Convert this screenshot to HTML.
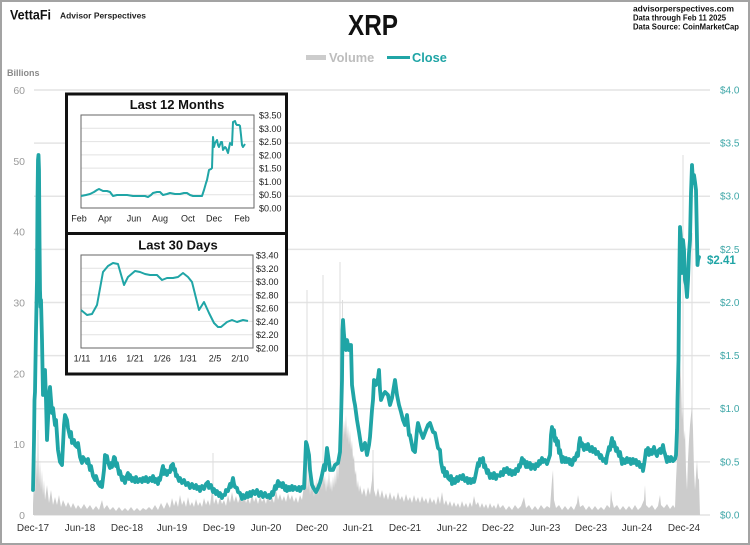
<!DOCTYPE html>
<html><head><meta charset="utf-8"><style>
html,body{margin:0;padding:0;background:#fff;}
svg{display:block;font-family:"Liberation Sans",Arial,sans-serif;}
</style></head><body>
<svg width="750" height="545" viewBox="0 0 750 545" xmlns="http://www.w3.org/2000/svg">
<rect x="0" y="0" width="750" height="545" fill="#fff"/>
<rect x="1" y="1" width="748" height="543" fill="none" stroke="#a3a3a3" stroke-width="2"/>

<!-- header -->
<text x="10" y="19.5" font-size="14" font-weight="bold" fill="#111" textLength="41" lengthAdjust="spacingAndGlyphs">VettaFi</text>
<text x="60" y="18.5" font-size="8.5" font-weight="bold" fill="#222" textLength="86" lengthAdjust="spacingAndGlyphs">Advisor Perspectives</text>
<text x="633" y="11.5" font-size="8.5" font-weight="bold" fill="#111" textLength="101" lengthAdjust="spacingAndGlyphs">advisorperspectives.com</text>
<text x="633" y="20.5" font-size="8.5" font-weight="bold" fill="#111" textLength="93" lengthAdjust="spacingAndGlyphs">Data through Feb 11 2025</text>
<text x="633" y="29.3" font-size="8.5" font-weight="bold" fill="#111" textLength="106" lengthAdjust="spacingAndGlyphs">Data Source: CoinMarketCap</text>
<text x="348" y="35" font-size="29" font-weight="bold" fill="#111" textLength="50" lengthAdjust="spacingAndGlyphs">XRP</text>

<!-- legend -->
<rect x="306" y="55" width="20" height="5" fill="#cccccc"/>
<text x="329" y="62" font-size="12.8" font-weight="bold" fill="#bdbdbd">Volume</text>
<line x1="387" y1="57.5" x2="410" y2="57.5" stroke="#20a5a6" stroke-width="3"/>
<text x="412" y="62" font-size="12.8" font-weight="bold" fill="#20a5a6">Close</text>

<text x="7" y="76" font-size="9" font-weight="bold" fill="#8a8a8a">Billions</text>

<!-- gridlines -->
<g stroke="#e4e4e4" stroke-width="1.5">
<line x1="34" y1="90" x2="710" y2="90"/>
<line x1="34" y1="143.1" x2="710" y2="143.1"/>
<line x1="34" y1="196.25" x2="710" y2="196.25"/>
<line x1="34" y1="249.4" x2="710" y2="249.4"/>
<line x1="34" y1="302.5" x2="710" y2="302.5"/>
<line x1="34" y1="355.6" x2="710" y2="355.6"/>
<line x1="34" y1="408.75" x2="710" y2="408.75"/>
<line x1="34" y1="461.9" x2="710" y2="461.9"/>
<line x1="34" y1="515" x2="710" y2="515"/>
</g>

<!-- left axis -->
<g font-size="10.5" fill="#9a9a9a" text-anchor="end">
<text x="25" y="94">60</text>
<text x="25" y="164.8">50</text>
<text x="25" y="235.7">40</text>
<text x="25" y="306.5">30</text>
<text x="25" y="377.3">20</text>
<text x="25" y="448.2">10</text>
<text x="25" y="519">0</text>
</g>
<!-- right axis -->
<g font-size="10" fill="#3fa7a8">
<text x="720" y="93.5">$4.0</text>
<text x="720" y="146.6">$3.5</text>
<text x="720" y="199.7">$3.0</text>
<text x="720" y="252.9">$2.5</text>
<text x="720" y="306">$2.0</text>
<text x="720" y="359.1">$1.5</text>
<text x="720" y="412.2">$1.0</text>
<text x="720" y="465.4">$0.5</text>
<text x="720" y="518.5">$0.0</text>
</g>

<!-- x labels -->
<g font-size="10" fill="#333" text-anchor="middle">
<text x="33" y="531">Dec-17</text>
<text x="80" y="531">Jun-18</text>
<text x="127" y="531">Dec-18</text>
<text x="172" y="531">Jun-19</text>
<text x="219" y="531">Dec-19</text>
<text x="266" y="531">Jun-20</text>
<text x="312" y="531">Dec-20</text>
<text x="358" y="531">Jun-21</text>
<text x="405" y="531">Dec-21</text>
<text x="452" y="531">Jun-22</text>
<text x="498" y="531">Dec-22</text>
<text x="545" y="531">Jun-23</text>
<text x="591" y="531">Dec-23</text>
<text x="637" y="531">Jun-24</text>
<text x="684" y="531">Dec-24</text>
</g>

<!-- volume thin spikes -->
<g stroke="#dedede" stroke-width="1">
<line x1="213" y1="515" x2="213" y2="453"/>
<line x1="307" y1="515" x2="307" y2="290"/>
<line x1="323" y1="515" x2="323" y2="275"/>
<line x1="340" y1="515" x2="340" y2="262"/>
<line x1="342.5" y1="515" x2="342.5" y2="300"/>
<line x1="373" y1="515" x2="373" y2="450"/>
<line x1="683" y1="515" x2="683" y2="155"/>
<line x1="692" y1="515" x2="692" y2="233"/>
<line x1="38" y1="515" x2="38" y2="430"/>
</g>
<!-- volume area -->
<path fill="#cccccc" d="M33,515 L33,505 34,478 35,495 36,455 37,480 38,440 39,485 40,460 41,490 42,470 43,495 44,480 45,500 47,485 49,503 51,490 53,505 55,497 57,505 59,495 61,507 63,500 66,507 68,502 71,508 73,503 76,509 78,505 81,509 84,504 87,509 90,505 93,510 96,506 99,510 102,500 104,509 107,505 110,510 113,507 116,511 119,507 122,511 125,508 128,511 131,507 134,511 137,508 140,511 143,508 146,510 149,507 152,510 155,505 158,510 161,503 164,509 167,502 170,508 172,498 174,506 176,500 178,507 180,495 182,505 184,500 186,507 188,497 190,506 192,502 194,507 196,499 198,506 200,502 202,507 204,498 206,505 208,500 210,506 212,490 214,504 216,498 218,505 220,497 222,504 224,500 226,506 228,495 230,503 232,492 234,502 236,496 238,503 240,497 242,502 244,495 246,503 248,498 250,504 252,494 254,502 256,497 258,504 260,496 262,502 264,498 266,504 268,493 270,502 272,497 274,503 276,490 278,500 280,494 282,501 284,496 286,502 288,493 290,500 292,495 294,502 296,497 298,503 300,495 302,500 304,485 305,470 306,440 307,480 308,490 309,470 310,495 311,480 312,492 313,485 314,497 315,482 316,490 317,478 318,495 319,483 320,488 321,470 322,490 323,455 324,485 325,475 326,492 327,478 328,488 329,470 330,490 331,480 332,492 333,476 334,488 335,472 336,485 337,460 338,480 339,455 340,445 341,430 342,410 343,440 344,420 345,435 346,415 347,440 348,425 349,445 350,430 351,450 352,440 353,460 354,455 355,475 356,470 357,488 358,480 359,492 360,485 362,495 364,488 366,497 368,487 370,495 372,480 373,460 374,490 376,497 378,488 380,498 382,490 384,499 386,493 388,500 390,492 392,500 394,495 396,501 398,492 400,500 402,496 404,502 406,494 408,501 410,497 412,503 414,495 416,502 418,497 420,503 422,496 424,502 426,498 428,504 430,497 432,503 434,499 436,505 438,496 440,504 442,492 444,505 446,500 448,506 450,501 452,507 454,502 456,507 458,503 460,508 462,501 464,507 466,503 468,508 470,502 472,507 474,496 476,505 478,502 480,508 482,503 484,508 486,504 488,509 490,503 492,508 494,505 496,509 498,503 500,508 503,505 506,510 509,506 512,510 515,505 518,509 521,506 524,497 526,508 529,505 532,510 535,506 538,510 541,505 544,509 547,506 550,508 552,480 553,470 554,500 556,508 559,505 562,510 565,506 568,510 571,506 574,510 577,503 578,495 580,507 583,505 586,510 589,506 592,510 595,506 598,510 601,507 604,510 607,505 610,508 611,490 612,500 614,508 617,505 620,510 623,506 626,510 629,506 632,510 635,505 638,510 641,507 644,500 645,485 646,505 649,508 652,505 655,510 658,506 660,495 661,505 664,508 667,504 670,509 673,505 675,508 676,480 677,460 678,420 679,390 680,360 681,380 682,420 683,400 684,440 685,430 686,470 687,490 688,460 689,440 690,425 691,415 692,405 693,430 694,470 695,490 696,475 697,460 698,478 699,480 700,515 Z"/>

<!-- close line -->
<polyline fill="none" stroke="#20a5a6" stroke-width="3.8" stroke-linejoin="round" stroke-linecap="round" points="33,490 34,440 34.5,400 35,392 36,330 37,280 37.5,200 38,160 38.5,155 39,170 39.5,240 40,290 40.5,307 41,300 42,340 43,395 45,370 46,400 47,440 48,420 49,395 50,387 52,413 53,408 55,425 56,420 58,450 60,462 62,465 64,425 65,415 67,420 68,428 70,437 71,432 72,443 74,440 75,445 77,447 78,443 80,457 82,463 83,457 85,460 87,463 88,459 90,470 91,466 93,476 95,480 96,476 98,483 100,486 101,482 102,487 104,470 105,455 106,462 107,456 108,462 110,468 111,463 112,467 114,457 115,458 116,466 117,463 119,474 120,471 122,480 123,477 125,483 126,478 128,473 129,479 130,475 132,481 133,478 135,482 136,477 138,482 140,479 142,482 143,478 145,481 146,477 148,482 150,478 152,481 153,476 155,482 156,479 158,484 159,478 160,480 162,470 163,466 164,474 165,470 167,475 168,471 170,472 171,466 173,464 174,470 175,469 176,476 177,475 179,481 180,478 182,483 184,480 186,485 188,483 190,488 192,484 194,488 196,485 197,489 199,487 200,491 202,486 204,489 206,484 208,482 209,488 211,485 213,492 214,489 216,494 217,491 219,496 220,493 222,498 223,495 225,495 226,490 228,491 230,484 231,487 233,478 234,484 235,487 237,488 238,492 240,493 242,499 243,495 245,498 247,493 248,497 250,492 251,496 253,491 255,494 257,490 259,496 261,492 263,497 265,493 267,497 269,495 270,498 272,492 273,495 275,486 276,489 278,481 279,486 280,483 282,487 283,483 285,490 286,486 287,491 289,487 290,490 292,486 293,490 295,487 297,490 299,487 300,491 302,487 304,488 305,467 306,442 307,445 309,455 310,470 312,485 314,489 316,492 318,488 320,483 322,475 324,465 325,470 327,448 329,462 330,470 333,470 335,465 338,463 340,452 341,420 342,380 342.5,330 343,320 344,335 345,345 346,350 347,340 349,350 350,345 351,345 352,385 354,400 355,405 357,420 359,432 361,445 362,450 364,445 365,443 367,455 369,445 370,437 372,410 373,400 374,380 376,385 378,378 379,370 380,390 381,400 383,395 385,392 388,395 390,405 392,398 395,380 397,395 399,405 401,412 403,420 405,425 407,415 409,435 410,435 412,445 413,450 415,452 417,430 418,423 420,430 423,438 426,430 428,425 430,423 433,432 435,433 438,448 440,450 441,462 443,472 444,468 445,476 447,472 448,478 450,480 451,476 452,484 454,479 455,483 457,477 458,481 460,476 462,479 463,475 465,481 467,478 468,483 470,479 471,483 473,479 474,482 475,478 476,473 477,468 478,463 479,466 480,459 482,462 483,458 484,467 485,465 487,473 488,470 490,478 491,474 493,478 494,473 496,479 497,475 500,476 501,472 503,475 504,469 506,472 507,468 509,474 510,470 512,475 513,471 515,474 516,469 518,471 519,465 520,467 522,458 523,463 524,460 526,467 527,462 528,467 530,463 531,469 533,465 535,469 536,464 538,466 539,461 540,464 542,458 543,462 545,460 547,464 548,461 550,455 551,435 552,427 553,433 554,430 555,441 556,438 557,445 558,441 559,453 560,450 562,462 563,457 565,462 566,458 567,462 569,459 570,464 571,460 572,465 574,458 575,460 577,453 578,456 579,444 580,438 581,446 582,443 584,450 585,445 587,449 588,444 590,451 592,447 593,452 595,449 596,454 598,452 600,458 601,455 603,461 605,459 606,463 607,456 608,452 609,447 610,450 611,443 612,438 613,446 614,442 616,451 617,448 619,456 620,452 622,464 623,459 625,463 627,458 628,462 630,459 631,464 633,459 634,463 636,460 637,465 639,462 640,467 642,465 643,471 644,465 645,458 646,450 647,453 648,448 649,455 651,450 652,454 654,447 655,452 657,456 658,451 660,449 661,453 663,445 664,451 665,454 667,462 668,457 670,461 671,457 673,461 675,459 676,455 677,430 677.5,400 678,380 678.5,360 679,300 679.5,260 680,227 681,240 682,273 683,240 684,250 685,280 686,285 687,297 688,280 689,253 690,240 691,193 692,165 693,183 694,175 695,182 696,190 697,240 697.5,265 698,260 699,257"/>
<text x="707" y="264" font-size="11.5" font-weight="bold" fill="#20a5a6">$2.41</text>

<!-- inset box -->
<rect x="66.5" y="94" width="220" height="280" fill="#fff" stroke="#111" stroke-width="3"/>
<line x1="66" y1="233.5" x2="287" y2="233.5" stroke="#111" stroke-width="3"/>

<!-- inset 1 -->
<text x="177" y="109" font-size="13" font-weight="bold" fill="#111" text-anchor="middle">Last 12 Months</text>
<g stroke="#e2e2e2" stroke-width="1">
<line x1="81" y1="128.3" x2="254" y2="128.3"/>
<line x1="81" y1="141.6" x2="254" y2="141.6"/>
<line x1="81" y1="154.9" x2="254" y2="154.9"/>
<line x1="81" y1="168.1" x2="254" y2="168.1"/>
<line x1="81" y1="181.4" x2="254" y2="181.4"/>
<line x1="81" y1="194.7" x2="254" y2="194.7"/>
</g>
<rect x="81" y="115" width="173" height="93" fill="none" stroke="#666" stroke-width="1"/>
<g font-size="9" fill="#222">
<text x="259" y="118.5">$3.50</text>
<text x="259" y="131.8">$3.00</text>
<text x="259" y="145.1">$2.50</text>
<text x="259" y="158.4">$2.00</text>
<text x="259" y="171.6">$1.50</text>
<text x="259" y="184.9">$1.00</text>
<text x="259" y="198.2">$0.50</text>
<text x="259" y="211.5">$0.00</text>
</g>
<g font-size="9" fill="#222" text-anchor="middle">
<text x="79" y="221.5">Feb</text>
<text x="105" y="221.5">Apr</text>
<text x="134" y="221.5">Jun</text>
<text x="160" y="221.5">Aug</text>
<text x="188" y="221.5">Oct</text>
<text x="214" y="221.5">Dec</text>
<text x="242" y="221.5">Feb</text>
</g>
<polyline fill="none" stroke="#20a5a6" stroke-width="2" stroke-linejoin="round" points="81,196 86,195 90,194 94,192 97,190 99,189 103,191 107,191 110,192 113,196 117,195 122,195 127,195 133,196 140,196 145,196 148,197 151,195 153,193 157,192 160,192 163,195 167,194 170,193 175,194 180,194 184,193 187,193 190,195 193,196 198,196 202,196 204,190 206,183 207,180 209,170 211,169 212,168 213,137 214,147 215,143 217,140 218,145 219,147 221,142 222,142 223,150 225,147 226,148 228,153 229,148 230,143 232,145 233,122 235,121 236,124 237,125 239,125 240,126 241,135 242,145 243,147 245,144"/>

<!-- inset 2 -->
<text x="178" y="249.5" font-size="13" font-weight="bold" fill="#111" text-anchor="middle">Last 30 Days</text>
<g stroke="#e2e2e2" stroke-width="1">
<line x1="81" y1="268.3" x2="253" y2="268.3"/>
<line x1="81" y1="281.6" x2="253" y2="281.6"/>
<line x1="81" y1="294.9" x2="253" y2="294.9"/>
<line x1="81" y1="308.1" x2="253" y2="308.1"/>
<line x1="81" y1="321.4" x2="253" y2="321.4"/>
<line x1="81" y1="334.7" x2="253" y2="334.7"/>
</g>
<rect x="81" y="255" width="172" height="93" fill="none" stroke="#666" stroke-width="1"/>
<g font-size="9" fill="#222">
<text x="256" y="258.5">$3.40</text>
<text x="256" y="271.8">$3.20</text>
<text x="256" y="285.1">$3.00</text>
<text x="256" y="298.4">$2.80</text>
<text x="256" y="311.6">$2.60</text>
<text x="256" y="324.9">$2.40</text>
<text x="256" y="338.2">$2.20</text>
<text x="256" y="351.5">$2.00</text>
</g>
<g font-size="9" fill="#222" text-anchor="middle">
<text x="82" y="361.5">1/11</text>
<text x="108" y="361.5">1/16</text>
<text x="135" y="361.5">1/21</text>
<text x="162" y="361.5">1/26</text>
<text x="188" y="361.5">1/31</text>
<text x="215" y="361.5">2/5</text>
<text x="240" y="361.5">2/10</text>
</g>
<polyline fill="none" stroke="#20a5a6" stroke-width="2" stroke-linejoin="round" points="81,310 87,315 92,314 97,305 103,272 108,266 113,263 118,264 124,285 128,277 135,271 140,272 145,274 150,275 157,275 162,280 167,278 173,278 178,277 183,273 188,277 192,282 194,290 199,310 204,302 209,313 214,323 218,327 221,327 227,322 232,320 237,322 243,320 248,321"/>
</svg>
</body></html>
